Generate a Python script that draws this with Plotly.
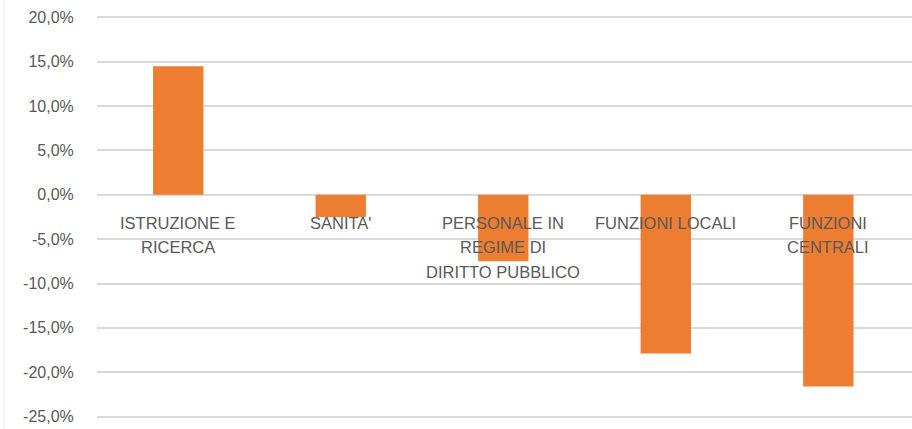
import plotly.graph_objects as go

categories = ["ISTRUZIONE E RICERCA", "SANITA'", "PERSONALE IN REGIME DI DIRITTO PUBBLICO",
              "FUNZIONI LOCALI", "FUNZIONI CENTRALI"]
label_lines = [["ISTRUZIONE E", "RICERCA"], ["SANITA'"], ["PERSONALE IN", "REGIME DI", "DIRITTO PUBBLICO"],
               ["FUNZIONI LOCALI"], ["FUNZIONI", "CENTRALI"]]
values = [14.5, -2.5, -7.5, -17.9, -21.6]
tick_vals = [20, 15, 10, 5, 0, -5, -10, -15, -20, -25]
tick_text = [f"{v:.1f}%".replace(".", ",") for v in tick_vals]

FONT = "Liberation Sans"
GREY = "#595959"

W, H = 912, 429
ML, MR, MT, MB = 97, 0, 13, 8

fig = go.Figure(go.Bar(x=categories, y=values, marker=dict(color="#ED7D31", line=dict(width=0)),
                       width=0.31, hoverinfo="skip"))

annotations = []
for cat, lines in zip(categories, label_lines):
    for i, ln in enumerate(lines):
        annotations.append(dict(x=cat, y=0, xref="x", yref="y", text=ln, showarrow=False,
                                xanchor="center", yanchor="middle", yshift=-(28 + 24.5 * i),
                                font=dict(family=FONT, size=16.5, color=GREY)))

plot_w = W - ML - MR
plot_h = H - MT - MB
fig.add_shape(type="line", xref="paper", yref="paper",
              x0=(4 - ML) / plot_w, x1=(4 - ML) / plot_w,
              y0=-MB / plot_h, y1=1 + MT / plot_h,
              line=dict(color="#ececec", width=1))

fig.update_layout(
    width=W, height=H,
    margin=dict(l=ML, r=MR, t=MT, b=MB),
    paper_bgcolor="white", plot_bgcolor="white",
    showlegend=False,
    annotations=annotations,
    xaxis=dict(range=[-0.5, 4.515], showticklabels=False, showgrid=False, zeroline=False,
               showline=False, ticks=""),
    yaxis=dict(range=[-25.5, 20.5], tickvals=tick_vals, ticktext=tick_text, showgrid=True,
               gridcolor="#d9d9d9", gridwidth=1.5, zeroline=False, showline=False,
               ticks="outside", ticklen=19, tickcolor="rgba(0,0,0,0)",
               tickfont=dict(family=FONT, size=16, color=GREY)),
)

fig.write_html("out.html", config={"displayModeBar": False},
               post_script="document.body.style.margin='0';document.body.style.overflow='hidden';")
